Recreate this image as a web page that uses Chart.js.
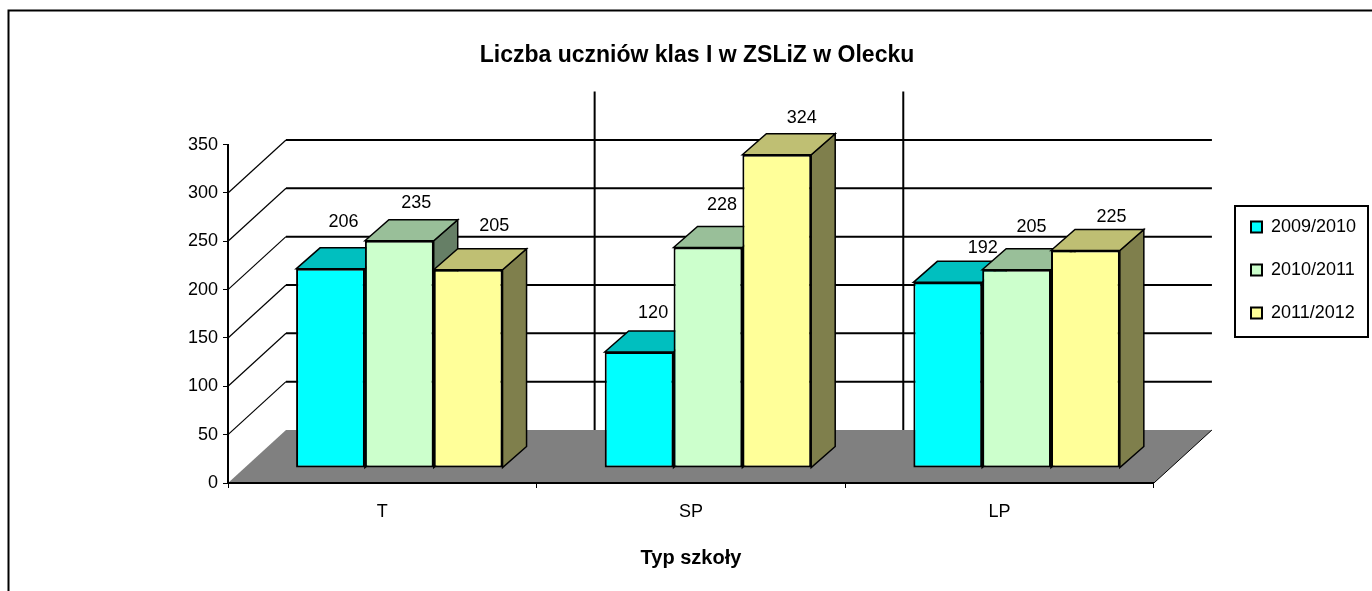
<!DOCTYPE html>
<html>
<head>
<meta charset="utf-8">
<title>Liczba uczniów klas I</title>
<script src="https://cdn.jsdelivr.net/npm/chart.js@4"></script>
<style>
  html, body { margin: 0; padding: 0; background: #fff; overflow: hidden; }
  #wrap { position: relative; width: 1372px; height: 591px; }
</style>
</head>
<body>
<div id="wrap"><canvas id="chart" width="1372" height="591"></canvas></div>
<script>
const categories = ['T', 'SP', 'LP'];
const seriesNames = ['2009/2010', '2010/2011', '2011/2012'];
const values2009 = [206, 120, 192];
const values2010 = [235, 228, 205];
const values2011 = [205, 324, 225];
const yTicks = [0, 50, 100, 150, 200, 250, 300, 350];

const fronts = ['#00ffff', '#ccffcc', '#ffff99'];
const tops = ['#00bfbf', '#99bf99', '#bfbf73'];
const sides = ['#007f7f', '#667f66', '#7f7f4c'];

const FONT = '"Liberation Sans", Arial, sans-serif';

// how the flat chart is faked into the old excel 3d look
const wall = { dx: 58, dy: -53 };
const row = { dx: 17, dy: -15 };
const depth = { dx: 24, dy: -21 };

// excel put the value labels a bit unevenly, [dx, dy] from the top face per series
const labelShift = [
  [[1, -26], [2, -18], [23, -13]],
  [[5, -17], [2, -22], [3, -22]],
  [[14, -23], [13, -16], [14, -12]]
];

function poly(ctx, pts, fill) {
  ctx.beginPath();
  pts.forEach((p, i) => i ? ctx.lineTo(p[0], p[1]) : ctx.moveTo(p[0], p[1]));
  ctx.closePath();
  ctx.fillStyle = fill;
  ctx.fill();
  ctx.strokeStyle = '#000';
  ctx.lineWidth = 1.5;
  ctx.stroke();
}

const fake3d = {
  id: 'fake3d',
  afterLayout(chart) {
    const lg = chart.legend;
    lg.left = 1226; lg.right = lg.left + lg.width;
    lg.top = 193; lg.bottom = lg.top + lg.height;
  },
  beforeDraw(chart) {
    const { ctx, chartArea: a, scales: { x, y } } = chart;
    ctx.save();
    // outer frame, only left and top are in the crop
    ctx.strokeStyle = '#000';
    ctx.lineWidth = 2;
    ctx.beginPath();
    ctx.moveTo(8.5, 591);
    ctx.lineTo(8.5, 10.5);
    ctx.lineTo(1372, 10.5);
    ctx.stroke();
    // floor
    ctx.fillStyle = '#808080';
    ctx.beginPath();
    ctx.moveTo(a.left, a.bottom);
    ctx.lineTo(a.left + wall.dx, a.bottom + wall.dy);
    ctx.lineTo(a.right + wall.dx, a.bottom + wall.dy);
    ctx.lineTo(a.right, a.bottom);
    ctx.closePath();
    ctx.fill();
    ctx.strokeStyle = '#000';
    ctx.lineWidth = 1;
    ctx.beginPath();
    ctx.moveTo(a.right, a.bottom);
    ctx.lineTo(a.right + wall.dx, a.bottom + wall.dy);
    ctx.stroke();
    // grid on side and back walls, no line for the top tick
    yTicks.slice(1, -1).forEach(v => {
      const py = y.getPixelForValue(v);
      ctx.lineWidth = 1.2;
      ctx.beginPath();
      ctx.moveTo(a.left, py);
      ctx.lineTo(a.left + wall.dx, py + wall.dy);
      ctx.stroke();
      ctx.lineWidth = 2;
      ctx.beginPath();
      ctx.moveTo(a.left + wall.dx, py + wall.dy);
      ctx.lineTo(a.right + wall.dx, py + wall.dy);
      ctx.stroke();
    });
    // category dividers on the back wall
    categories.slice(1).forEach((c, i) => {
      const px = (x.getPixelForValue(i) + x.getPixelForValue(i + 1)) / 2 + wall.dx;
      ctx.beginPath();
      ctx.moveTo(px, a.top + wall.dy);
      ctx.lineTo(px, a.bottom + wall.dy);
      ctx.stroke();
    });
    ctx.restore();
  },
  beforeDatasetsDraw(chart) {
    const ctx = chart.ctx;
    ctx.save();
    ctx.translate(row.dx, row.dy);
    // left to right so a later top sits over the neighbour's side
    for (let c = 0; c < categories.length; c++) {
      chart.data.datasets.forEach((ds, d) => {
        const b = chart.getDatasetMeta(d).data[c];
        const l = b.x - b.width / 2, r = b.x + b.width / 2;
        poly(ctx, [[r, b.y], [r + depth.dx, b.y + depth.dy], [r + depth.dx, b.base + depth.dy], [r, b.base]], sides[d]);
        poly(ctx, [[l, b.y], [l + depth.dx, b.y + depth.dy], [r + depth.dx, b.y + depth.dy], [r, b.y]], tops[d]);
      });
    }
  },
  afterDatasetsDraw(chart) {
    const ctx = chart.ctx;
    ctx.restore();
    // value labels float above the top face
    ctx.save();
    ctx.fillStyle = '#000';
    ctx.font = '18px ' + FONT;
    ctx.textAlign = 'center';
    ctx.textBaseline = 'middle';
    chart.data.datasets.forEach((ds, d) => {
      chart.getDatasetMeta(d).data.forEach((b, c) => {
        const s = labelShift[d][c];
        ctx.fillText(ds.data[c], b.x + row.dx + depth.dx / 2 + s[0], b.y + row.dy + depth.dy + s[1]);
      });
    });
    ctx.restore();
  },
  afterDraw(chart) {
    const { ctx } = chart;
    ctx.save();
    ctx.strokeStyle = '#000';
    ctx.lineWidth = 2;
    ctx.strokeRect(1235, 206, 133, 131);
    ctx.restore();
  }
};

new Chart(document.getElementById('chart'), {
  type: 'bar',
  data: {
    labels: categories,
    datasets: [
      { label: seriesNames[0], data: values2009, backgroundColor: fronts[0] },
      { label: seriesNames[1], data: values2010, backgroundColor: fronts[1] },
      { label: seriesNames[2], data: values2011, backgroundColor: fronts[2] }
    ]
  },
  plugins: [fake3d],
  options: {
    responsive: false,
    animation: false,
    layout: { padding: { left: 100, right: 78, top: 0, bottom: 17 } },
    datasets: {
      bar: { borderColor: '#000', borderWidth: 2, borderSkipped: false, categoryPercentage: 0.669, barPercentage: 1 }
    },
    scales: {
      x: {
        afterFit: s => { s.height = 91; },
        border: { color: '#000', width: 2 },
        grid: { offset: true, drawOnChartArea: false, color: '#000', tickLength: 5 },
        ticks: { color: '#000', font: { family: FONT, size: 18 }, padding: 13, maxRotation: 0 },
        title: { display: true, text: 'Typ szkoły', color: '#000', font: { family: FONT, size: 20, weight: 'bold' }, padding: { top: 18 } }
      },
      y: {
        min: 0,
        max: 350,
        afterFit: s => { s.width = 128; },
        afterBuildTicks: s => { s.ticks = yTicks.map(v => ({ value: v })); },
        border: { color: '#000', width: 2 },
        grid: { drawOnChartArea: false, color: '#000', tickLength: 5 },
        ticks: { color: '#000', font: { family: FONT, size: 18 }, padding: 5 }
      }
    },
    plugins: {
      legend: {
        position: 'right',
        align: 'start',
        labels: {
          color: '#000',
          font: { family: FONT, size: 18 },
          boxWidth: 11,
          boxHeight: 11,
          padding: 25
        }
      },
      title: {
        display: true,
        text: 'Liczba uczniów klas I w ZSLiZ w Olecku',
        color: '#000',
        font: { family: FONT, size: 23, weight: 'bold' },
        padding: { top: 42, bottom: 75 }
      },
      tooltip: { enabled: false }
    }
  }
});
</script>
</body>
</html>
